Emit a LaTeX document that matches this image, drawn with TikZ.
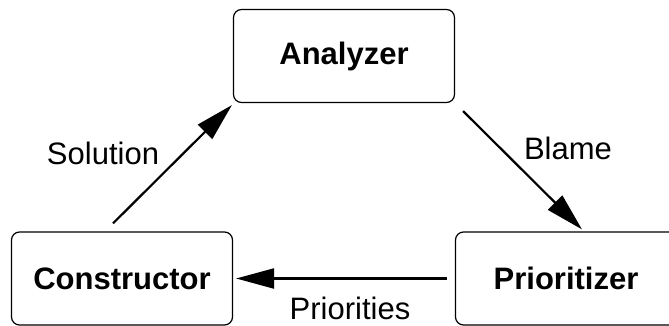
\documentclass[tikz,border=0pt]{standalone}
\usepackage{fontspec}
\setmainfont{Liberation Sans}
\usetikzlibrary{arrows.meta}

\begin{document}
\begin{tikzpicture}[x=0.5pt, y=0.5pt,
	stage/.style={draw, rounded corners=4pt, line width=0.6pt, minimum width=110.5pt, minimum height=46.5pt, font=\fontsize{15.5}{18}\selectfont\bfseries},
	flow/.style={line width=1.1pt, -{Triangle[length=19pt, width=10pt]}},
	lbl/.style={font=\fontsize{15.5}{18}\selectfont}]
	\useasboundingbox (0,0) rectangle (669,326);
	\node[stage] (ana) at (344,270) {Analyzer};
	\node[stage] (con) at (122,47.5) {Constructor};
	\node[stage] (pri) at (566,47.5) {Prioritizer};

	\draw[flow] ([shift={(-9,8)}]con.north) -- ([shift={(-1,-2)}]ana.south west);
	\draw[flow] ([shift={(8,-8)}]ana.south east) -- ([shift={(16,2)}]pri.north);
	\draw[flow] ([shift={(-8,0)}]pri.west) -- ([shift={(3,0)}]con.east);

	\node[lbl] (sol) at (103,173) {Solution};
	\node[lbl] (bla) at (568,178) {Blame};
	\node[lbl] (prs) at (350,18) {Priorities};
\end{tikzpicture}
\end{document}
